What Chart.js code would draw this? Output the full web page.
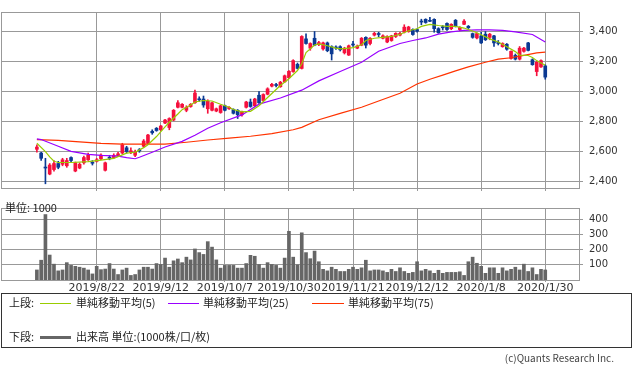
<!DOCTYPE html>
<html>
<head>
<meta charset="utf-8">
<script src="https://cdn.jsdelivr.net/npm/chart.js@4.4.1/dist/chart.umd.min.js"></script>
<style>
  body{margin:0;background:#fff;width:633px;height:371px;overflow:hidden;position:relative;
       font-family:"Noto Sans CJK JP",sans-serif;color:#222}
  canvas{position:absolute;left:0}
  #top{top:0}
  #vol{top:196px}
  .t{position:absolute;font-size:11px;line-height:13px;white-space:nowrap}
  .ln{position:absolute;height:1px}
  #legend{position:absolute;left:1px;top:293px;width:631px;height:55px;border:1px solid #333;box-sizing:border-box}
</style>
</head>
<body>
<canvas id="top" width="633" height="200"></canvas>
<canvas id="vol" width="633" height="100"></canvas>
<div class="t" style="left:5px;top:201px">単位: 1000</div>

<div id="legend"></div>
<div class="t" style="left:9px;top:296px">上段:</div>
<div class="ln" style="left:40px;top:303px;width:31px;background:#99cc00"></div>
<div class="t" style="left:76px;top:296px">単純移動平均(5)</div>
<div class="ln" style="left:168px;top:303px;width:31px;background:#9900ff"></div>
<div class="t" style="left:203px;top:296px">単純移動平均(25)</div>
<div class="ln" style="left:312px;top:303px;width:32px;background:#ff3300"></div>
<div class="t" style="left:348px;top:296px">単純移動平均(75)</div>
<div class="t" style="left:9px;top:330px">下段:</div>
<div class="ln" style="left:40px;top:336px;width:31px;height:3px;background:#666"></div>
<div class="t" style="left:76px;top:330px">出来高 単位:(1000株/口/枚)</div>
<div class="t" style="right:19px;top:351px;font-size:10px;color:#444">(c)Quants Research Inc.</div>

<script>
/* ---------- data (trading-day index 0 = 2019/8/1) ---------- */
const tickDays   = [14, 29, 44, 59, 74, 89, 104, 119];
const tickLabels = ['2019/8/22','2019/9/12','2019/10/7','2019/10/30','2019/11/21','2019/12/12','2020/1/8','2020/1/30'];
const priceTicks = [2400, 2600, 2800, 3000, 3200, 3400];
const volTicks   = [100, 200, 300, 400];

const open = [2615,2590,2495,2450,2480,2520,2515,2505,2560,2470,
  2490,2525,2545,2527,2535,2552,2475,2560,2560,2570,
  2590,2625,2595,2575,2612,2635,2655,2735,2755,2745,
  2790,2760,2810,2895,2895,2875,2900,2925,2950,2950,
  2885,2875,2870,2860,2905,2885,2880,2875,2845,2895,
  2930,2905,2975,2940,2982,3036,3045,3032,3065,3092,
  3133,3181,3154,3351,3289,3355,3313,3284,3324,3299,
  3295,3299,3258,3243,3315,3289,3309,3361,3320,3376,
  3385,3355,3330,3340,3367,3376,3396,3400,3413,3413,
  3467,3481,3472,3481,3419,3430,3454,3419,3475,3413,
  3448,3435,3386,3357,3371,3382,3361,3371,3325,3299,
  3315,3220,3241,3216,3268,3324,3212,3133,3164,3171];
const close = [2630,2555,2490,2510,2520,2495,2545,2540,2540,2525,
  2515,2560,2575,2522,2545,2576,2525,2555,2575,2585,
  2645,2600,2605,2595,2605,2670,2710,2725,2740,2770,
  2810,2820,2875,2925,2915,2895,2915,2990,2945,2910,
  2935,2925,2885,2905,2875,2895,2855,2845,2865,2930,
  2900,2950,2925,2980,3018,3048,3040,3062,3105,3135,
  3206,3154,3367,3320,3320,3309,3326,3324,3272,3251,
  3290,3278,3289,3305,3310,3303,3355,3309,3355,3388,
  3380,3371,3367,3371,3388,3388,3429,3430,3380,3402,
  3463,3460,3468,3419,3392,3425,3413,3448,3434,3427,
  3469,3425,3361,3386,3324,3345,3382,3324,3320,3320,
  3282,3268,3216,3289,3289,3274,3179,3195,3206,3096];
const high = [2645,2595,2555,2520,2540,2535,2555,2555,2565,2530,
  2525,2570,2590,2540,2555,2585,2530,2575,2585,2595,
  2655,2635,2625,2610,2620,2680,2715,2745,2760,2775,
  2815,2825,2880,2940,2920,2905,2920,3010,2965,2970,
  2945,2930,2890,2910,2910,2900,2885,2880,2870,2935,
  2950,2955,3000,2985,3025,3055,3055,3068,3110,3140,
  3212,3190,3372,3385,3325,3400,3335,3330,3330,3305,
  3305,3305,3295,3310,3335,3310,3360,3365,3360,3395,
  3395,3378,3372,3375,3392,3395,3445,3435,3418,3418,
  3482,3485,3495,3485,3425,3440,3458,3452,3480,3432,
  3480,3440,3390,3392,3395,3400,3388,3375,3340,3325,
  3320,3272,3250,3300,3295,3328,3218,3200,3212,3178];
const low = [2595,2540,2385,2445,2470,2485,2505,2495,2530,2465,
  2485,2515,2540,2510,2530,2545,2470,2545,2555,2565,
  2585,2590,2585,2565,2595,2630,2650,2715,2735,2740,
  2785,2745,2805,2890,2890,2865,2895,2920,2935,2895,
  2855,2870,2865,2855,2870,2880,2850,2820,2835,2890,
  2895,2900,2920,2935,2978,3030,3030,3028,3060,3088,
  3128,3150,3150,3315,3275,3305,3305,3275,3265,3210,
  3280,3270,3250,3240,3300,3285,3305,3290,3310,3370,
  3365,3350,3325,3335,3360,3370,3390,3395,3375,3395,
  3445,3455,3465,3395,3388,3410,3408,3412,3430,3405,
  3445,3420,3355,3350,3320,3340,3345,3300,3310,3295,
  3275,3215,3210,3210,3262,3270,3175,3105,3160,3082];
const volume = [66,130,430,164,104,60,66,114,96,90,
  84,78,66,40,90,68,72,108,72,36,
  66,78,30,36,66,84,84,72,108,102,
  144,84,126,138,114,150,132,204,180,168,
  252,216,132,78,96,96,96,78,78,108,
  162,156,102,78,114,102,96,78,144,320,
  150,100,310,180,140,190,120,70,60,84,
  70,56,56,70,84,70,80,130,60,66,
  66,60,50,70,56,80,56,44,50,120,
  60,70,60,44,64,44,50,50,50,54,
  30,120,150,110,90,44,80,80,44,80,
  60,70,84,66,104,56,80,36,70,66];

// moving averages: [day index, value]
const ma5 = [[0,2655],[2,2600],[3,2564],[4,2535],[5,2527],[8,2527],[12,2533],[15,2543],[18,2554],
  [20,2578],[21,2589],[23,2595],[25,2626],[26,2645],[28,2700],[30,2765],[31,2795],[33,2850],[34,2879],
  [36,2910],[37,2930],[39,2940],[41,2937],[43,2915],[45,2895],[46,2880],[48,2864],[50,2868],[52,2905],
  [54,2960],[57,3040],[59,3085],[61,3140],[62,3185],[63,3260],[65,3310],[66,3318],[68,3305],[70,3289],
  [71,3284],[73,3289],[74,3293],[76,3312],[77,3340],[79,3355],[81,3361],[83,3367],[85,3382],[87,3405],
  [89,3418],[90,3434],[92,3448],[94,3440],[96,3434],[98,3434],[100,3423],[102,3403],[104,3378],
  [106,3351],[108,3330],[110,3299],[112,3266],[113,3243],[115,3240],[116,3227],[117,3206],[119,3175]];
const ma25 = [[0,2684],[1,2680],[5,2635],[8,2601],[12,2581],[15,2574],[19,2570],[21,2560],[23,2552],
  [24,2562],[27,2595],[30,2630],[34,2668],[37,2709],[40,2755],[43,2792],[48,2844],[52,2916],[57,2957],
  [62,3009],[66,3071],[71,3133],[76,3195],[80,3268],[85,3320],[88,3340],[91,3357],[94,3382],[97,3398],
  [100,3407],[103,3411],[106,3411],[109,3407],[112,3398],[116,3380],[119,3330]];
const ma75 = [[0,2680],[5,2675],[10,2665],[15,2655],[20,2650],[25,2650],[30,2650],[35,2662],[40,2677],
  [45,2690],[50,2702],[55,2720],[60,2745],[62,2761],[66,2812],[71,2854],[76,2895],[80,2937],[85,2988],
  [89,3050],[92,3082],[95,3109],[98,3138],[101,3164],[105,3195],[108,3216],[111,3225],[114,3241],
  [117,3258],[119,3262]];

/* ---------- shared ---------- */
const UP = '#f5113d', DOWN = '#0b3a93', GRID = '#999';
const X_MIN = -8.4, X_MAX = 126.9;
const days = open.map((_, i) => i);
const candleColor = days.map(i => close[i] >= open[i] ? UP : DOWN);
const pts = arr => arr.map(([x, y]) => ({ x, y }));

const frame = {
  id:'frame',
  afterDraw(c){
    const a = c.chartArea, g = c.ctx;
    g.save();
    g.strokeStyle = GRID; g.lineWidth = 1;
    g.strokeRect(Math.round(a.left)+.5, Math.round(a.top)+.5, Math.round(a.right-a.left), Math.round(a.bottom-a.top));
    g.restore();
  }
};

const lineDs = (data, color) => ({
  type:'line', data:pts(data), borderColor:color, borderWidth:1.2,
  pointRadius:0, tension:0, fill:false
});

const xScale = (extra) => Object.assign({
  type:'linear', min:X_MIN, max:X_MAX, offset:false,
  afterBuildTicks: s => { s.ticks = tickDays.map(v => ({ value:v })); },
  grid:{ color:GRID, offset:false }, border:{ color:GRID }
}, extra);

/* ---------- price chart ---------- */
new Chart(document.getElementById('top'), {
  type:'bar',
  data:{ datasets:[
    lineDs(ma5,  '#99cc00'),
    lineDs(ma25, '#9900ff'),
    lineDs(ma75, '#ff3300'),
    { data: days.map(i => ({ x:i, y:[low[i], high[i]] })), backgroundColor:candleColor,
      barThickness:1, grouped:false },
    { data: days.map(i => ({ x:i, y:[open[i], close[i]] })), backgroundColor:candleColor,
      barThickness:3, grouped:false, minBarLength:1 }
  ]},
  options:{
    responsive:false, animation:false,
    layout:{ padding:{ top:1, left:1, right:0, bottom:0 } },
    plugins:{ legend:{ display:false }, tooltip:{ enabled:false } },
    scales:{
      x: xScale({
          afterFit: s => { s.height = 10; },
          ticks:{ display:false },
          grid:{ color:GRID, offset:false, tickLength:3 } }),
      y:{ position:'right', min:2357, max:3530,
          afterBuildTicks: s => { s.ticks = priceTicks.map(v => ({ value:v })); },
          afterFit: s => { s.width = 54; },
          ticks:{ callback: v => v.toLocaleString('en-US'), color:'#333', padding:6,
                  font:{ family:'DejaVu Sans', size:10 } },
          grid:{ color:GRID, tickLength:4 }, border:{ color:GRID } }
    }
  },
  plugins:[frame]
});

/* ---------- volume chart ---------- */
new Chart(document.getElementById('vol'), {
  type:'bar',
  data:{ datasets:[
    { data: days.map(i => ({ x:i, y:volume[i] })), backgroundColor:'#666', barThickness:3 }
  ]},
  options:{
    responsive:false, animation:false,
    layout:{ padding:{ top:5, left:1, right:0, bottom:0 } },
    plugins:{ legend:{ display:false }, tooltip:{ enabled:false } },
    scales:{
      x: xScale({
          afterFit: s => { s.height = 16; },
          ticks:{ callback: v => tickLabels[tickDays.indexOf(v)], autoSkip:false,
                  maxRotation:0, minRotation:0, padding:0, color:'#333',
                  font:{ family:'DejaVu Sans', size:11 } },
          grid:{ color:GRID, offset:false, tickLength:2 } }),
      y:{ position:'right', min:0, max:473,
          afterBuildTicks: s => { s.ticks = volTicks.map(v => ({ value:v })); },
          afterFit: s => { s.width = 54; },
          ticks:{ color:'#333', padding:6, font:{ family:'DejaVu Sans', size:10 } },
          grid:{ color:GRID, tickLength:4 }, border:{ color:GRID } }
    }
  },
  plugins:[frame]
});
</script>
</body>
</html>
